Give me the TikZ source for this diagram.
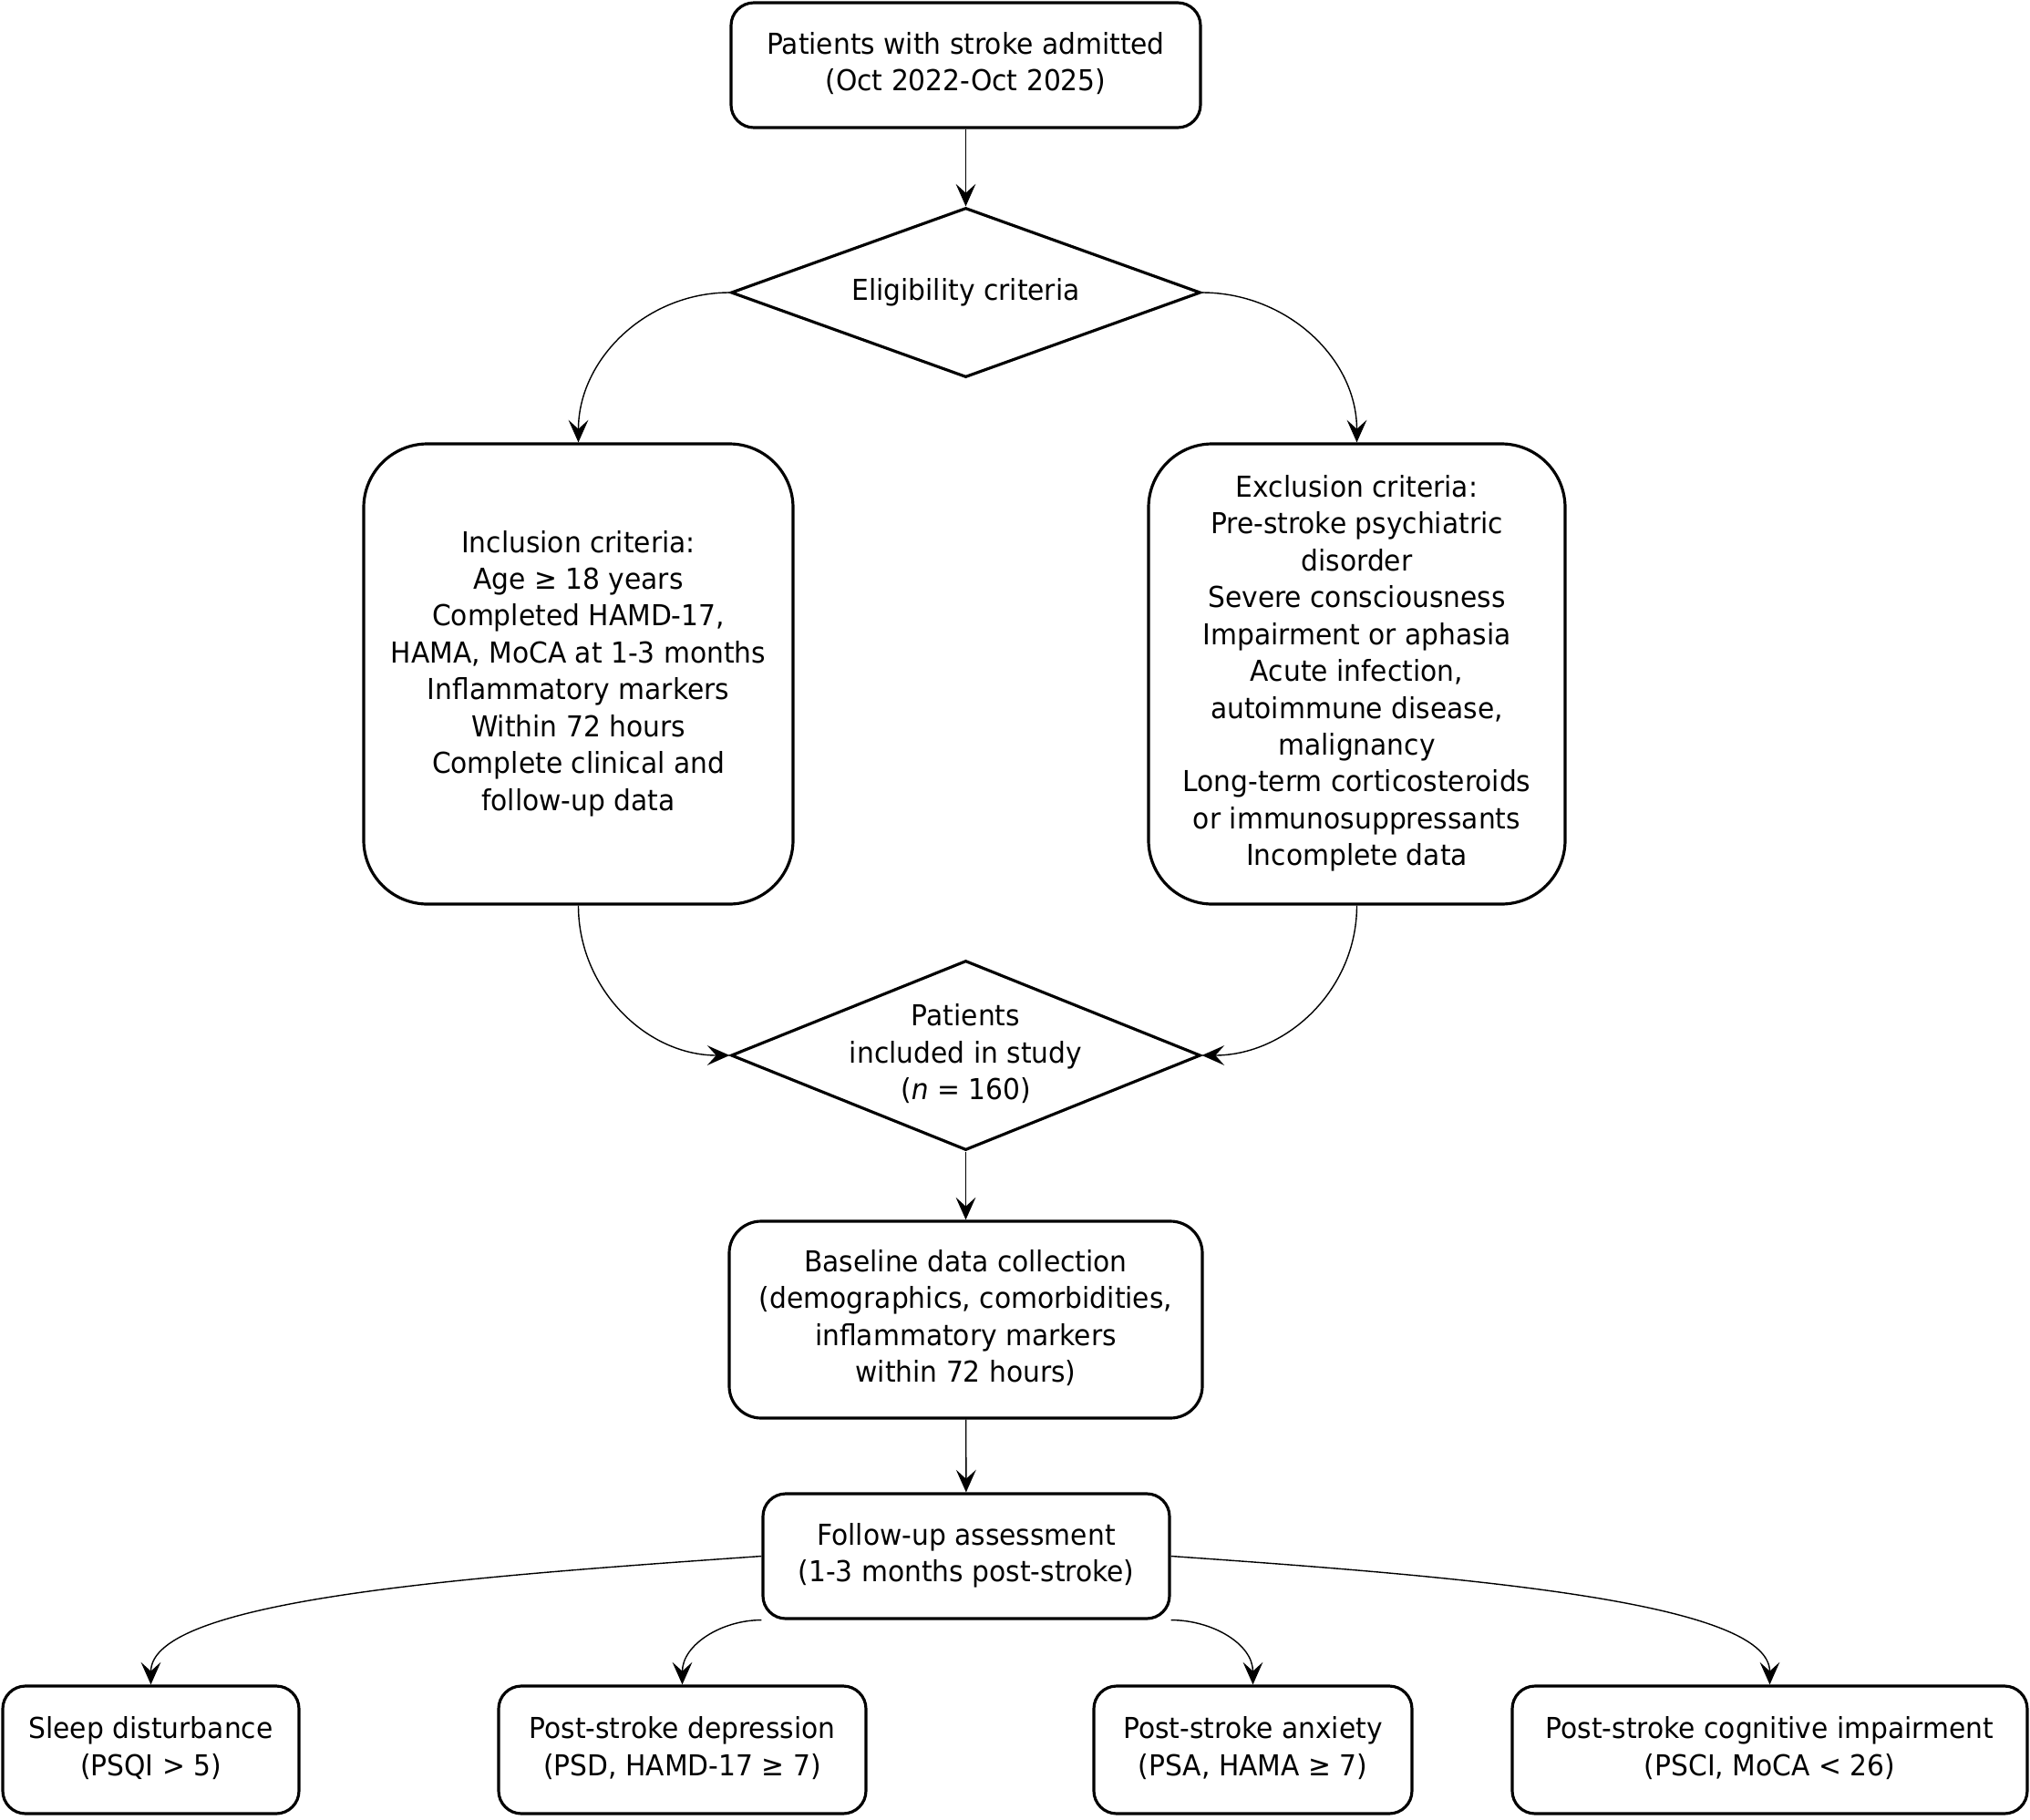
\documentclass[tikz,border=0pt]{standalone}
\usepackage{fontspec}
\setmainfont{DejaVu Sans}[FakeStretch=0.94]
\usetikzlibrary{arrows.meta,shapes.geometric}

\begin{document}
\begin{tikzpicture}[->,>={Stealth[length=7pt,width=6.2pt,inset=2.8pt]},line width=0.4pt,
				font=\fontsize{9}{11.5}\selectfont,
				stage/.style={draw, line width=0.9pt, rounded corners=2.5mm, minimum height=1.37cm, inner sep=0pt},
				bigbox/.style={stage, rounded corners=7mm, minimum height=5.05cm},
				check/.style={draw, diamond, aspect=2.5, line width=0.9pt, inner sep=-5pt, minimum width=5.15cm},
				fan/.style={out looseness=1.2, in looseness=0.35}]
				
				\useasboundingbox (0,0) rectangle (22.27,-19.97);
				
				\node[stage, minimum width=5.15cm] (adm) at (10.595, -0.715) {\begin{tabular}{c}
					Patients with stroke admitted \\ (Oct 2022-Oct 2025)
				\end{tabular}};
				\node[check, minimum height=1.86cm] (elig) at (10.595, -3.21) {Eligibility criteria};
				\node[bigbox, minimum width=4.71cm] (incl) at (6.345, -7.395) {\begin{tabular}{c}
					Inclusion criteria: \\ Age ≥ 18 years \\ Completed HAMD-17, \\ HAMA, MoCA at 1-3 months \\
					Inflammatory markers \\ Within 72 hours \\ Complete clinical and \\ follow-up data
				\end{tabular}};
				\node[bigbox, minimum width=4.57cm] (excl) at (14.885, -7.395) {\begin{tabular}{c}
					Exclusion criteria: \\ Pre-stroke psychiatric \\ disorder \\ Severe consciousness \\
					Impairment or aphasia \\ Acute infection, \\ autoimmune disease, \\ malignancy \\
					Long-term corticosteroids \\ or immunosuppressants \\ Incomplete data
				\end{tabular}};
				\node[check, minimum height=2.08cm] (incd) at (10.595, -11.58) {\begin{tabular}{c}
					Patients \\ included in study \\ (\textit{n} = 160)
				\end{tabular}};
				\node[stage, rounded corners=3.5mm, minimum width=5.19cm, minimum height=2.16cm] (base) at (10.595, -14.48) {\begin{tabular}{c}
					Baseline data collection \\ (demographics, comorbidities, \\ inflammatory markers \\ within 72 hours)
				\end{tabular}};
				\node[stage, minimum width=4.46cm] (fu) at (10.6, -17.075) {\begin{tabular}{c}
					Follow-up assessment \\ (1-3 months post-stroke)
				\end{tabular}};
				
				\node[stage, minimum width=3.25cm, minimum height=1.4cm] (sleep) at (1.655, -19.2) {\begin{tabular}{c}
					Sleep disturbance \\ (PSQI > 5)
				\end{tabular}};
				\node[stage, minimum width=4.03cm, minimum height=1.4cm] (psd) at (7.485, -19.2) {\begin{tabular}{c}
					Post-stroke depression \\ (PSD, HAMD-17 ≥ 7)
				\end{tabular}};
				\node[stage, minimum width=3.49cm, minimum height=1.4cm] (psa) at (13.745, -19.2) {\begin{tabular}{c}
					Post-stroke anxiety \\ (PSA, HAMA ≥ 7)
				\end{tabular}};
				\node[stage, minimum width=5.65cm, minimum height=1.4cm] (psci) at (19.415, -19.2) {\begin{tabular}{c}
					Post-stroke cognitive impairment \\ (PSCI, MoCA < 26)
				\end{tabular}};
				
				\path (adm) edge (elig);
				\path (elig.west) edge [out=180, in=90] (incl.north);
				\path (elig.east) edge [out=0, in=90] (excl.north);
				\path (incl.south) edge [out=-90, in=180] (incd.west);
				\path (excl.south) edge [out=-90, in=0] (incd.east);
				\path (incd) edge (base);
				\path (base) edge (fu);
				
				\path (fu.west) edge [fan, out=184, in=90] (sleep.north);
				\path (fu.south west) edge [out=180, in=90] (psd.north);
				\path (fu.south east) edge [out=0, in=90] (psa.north);
				\path (fu.east) edge [fan, out=-4, in=90] (psci.north);
			\end{tikzpicture}
\end{document}
